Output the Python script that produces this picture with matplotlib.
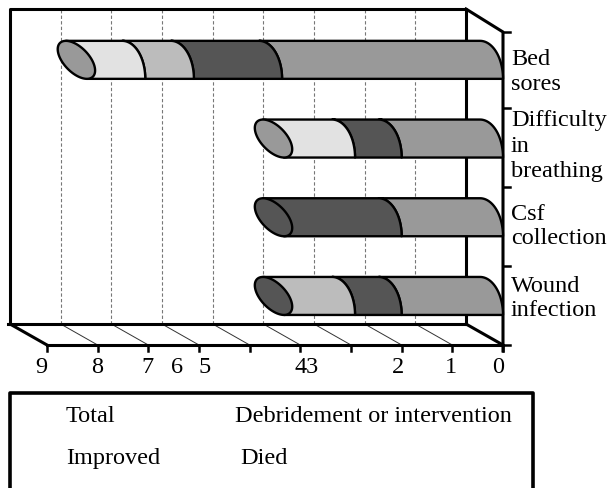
import numpy as np
import matplotlib
matplotlib.use("Agg")
import matplotlib.pyplot as plt
from matplotlib.patches import Polygon

categories = ["Bed\nsores", "Difficulty\nin\nbreathing", "Csf\ncollection", "Wound\ninfection"]
total = [4.36, 2.0, 2.0, 2.0]
debridement = [1.74, 0.92, 2.16, 0.92]
improved = [0.96, 0.0, 0.0, 1.24]
died = [0.99, 1.24, 0.0, 0.0]
series_names = ["Total", "Debridement or intervention", "Improved", "Died"]
series_colors = ["#999999", "#555555", "#bcbcbc", "#e2e2e2"]
cap_series = [0, 0, 1, 1]
tick_values = list(range(10))
axis_labels = ["9", "8", "7", "6", "5", "43", "2", "1", "0"]

W, H = 608, 489
PX_PER_UNIT = 50.67
X0 = 503.0
fig = plt.figure(figsize=(W / 100, H / 100), dpi=100)
ax = fig.add_axes([0, 0, 1, 1])
ax.set_xlim(X0 / PX_PER_UNIT, (X0 - W) / PX_PER_UNIT)
ROW = 78.7
Y_LOW = 296.0
ax.set_ylim((Y_LOW - H) / ROW, Y_LOW / ROW)
ax.axis("off")
ser = "Liberation Serif"
FS = 17.5


def X(px):
    return (X0 - px) / PX_PER_UNIT


def Y(py):
    return (Y_LOW - py) / ROW


frame = dict(color="black", lw=2.2, solid_capstyle="projecting", zorder=2)
# back wall and floor
ax.plot([X(10), X(10), X(466), X(466)], [Y(325), Y(10), Y(10), Y(325)], **frame)
ax.plot([X(8), X(466)], [Y(325), Y(325)], **frame)
ax.plot([X(47), X(503)], [Y(346), Y(346)], **frame)
ax.plot([X(10), X(47)], [Y(325), Y(346)], **frame)
ax.plot([X(466), X(503)], [Y(325), Y(346)], **frame)
ax.plot([X(466), X(503), X(503)], [Y(10), Y(33), Y(352)], **frame)
for py in [33, 109, 188, 267, 346]:
    ax.plot([X(503), X(510)], [Y(py), Y(py)], color="black", lw=1.8, zorder=2)

# grid lines and floor hatch
for v in tick_values:
    ax.plot([v, v], [Y(346), Y(352)], color="black", lw=1.8, zorder=2)
    if 0 < v < 9:
        bx = v + 37 / PX_PER_UNIT
        ax.plot([bx, bx], [Y(325), Y(10)], color="#777777", lw=0.8, ls=(0, (3, 2)), zorder=1)
        ax.plot([bx, v], [Y(325), Y(346)], color="#333333", lw=0.7, zorder=1)

# bars
table = np.array([total, debridement, improved, died])
BH = 19.0 / ROW
ARC_W = 23.0 / PX_PER_UNIT
half_w = 18.7 / PX_PER_UNIT
slant = 10.5 / PX_PER_UNIT
A = np.sqrt(half_w ** 2 - slant ** 2)
t = np.linspace(0, np.pi / 2, 30)
for i in range(len(categories)):
    k = len(categories) - 1 - i - 0.012
    top, bot = k + BH, k - BH

    def arc(v):
        # top to bottom, bulging toward the zero end
        return np.column_stack([v + ARC_W - ARC_W * np.sin(t), top - (top - bot) * (1 - np.cos(t))])

    edges = np.concatenate([[0], np.cumsum(table[:, i])])
    cx = edges[-1] + half_w
    for s in range(4):
        a, b = edges[s], edges[s + 1]
        if b <= a:
            continue
        if np.isclose(b, edges[-1]):
            left = np.array([[cx - slant, bot], [cx + slant, top]])
        else:
            left = arc(b)[::-1]
        pts = np.vstack([arc(a), left])
        ax.add_patch(Polygon(pts, closed=True, fc=series_colors[s], ec="black", lw=1.7,
                             joinstyle="round", zorder=3 + s))
    # end cap
    T = np.linspace(0, 2 * np.pi, 100)
    xs = cx - A * np.cos(T) - slant * np.sin(T)
    ys = k - BH * np.sin(T)
    ax.add_patch(Polygon(np.column_stack([xs, ys]), closed=True, fc=series_colors[cap_series[i]],
                         ec="black", lw=1.7, zorder=9))

# category labels
label_lines = [[59, 84], [121, 146, 171], [214, 239], [286, 310]]
for cat, ys_px in zip(categories, label_lines):
    for line, py in zip(cat.split("\n"), ys_px):
        ax.text(X(511), Y(py), line, family=ser, fontsize=FS, ha="left", va="center", zorder=10)

# value labels
for lab, px in zip(axis_labels, [41, 97, 147, 177, 205, 307, 398, 451, 498]):
    ax.text(X(px), Y(368), lab, family=ser, fontsize=FS, ha="center", va="center", zorder=10)

# legend box (runs off the bottom of the picture)
ax.plot([X(10), X(10), X(533), X(533)], [Y(492), Y(394), Y(394), Y(492)],
        color="black", lw=2.6, solid_capstyle="butt", zorder=2)
for name, px, py in zip(series_names, [66, 235, 66, 240], [417, 417, 459, 459]):
    ax.text(X(px), Y(py), name, family=ser, fontsize=FS, ha="left", va="center", zorder=10)

fig.savefig("out.png", dpi=100)
